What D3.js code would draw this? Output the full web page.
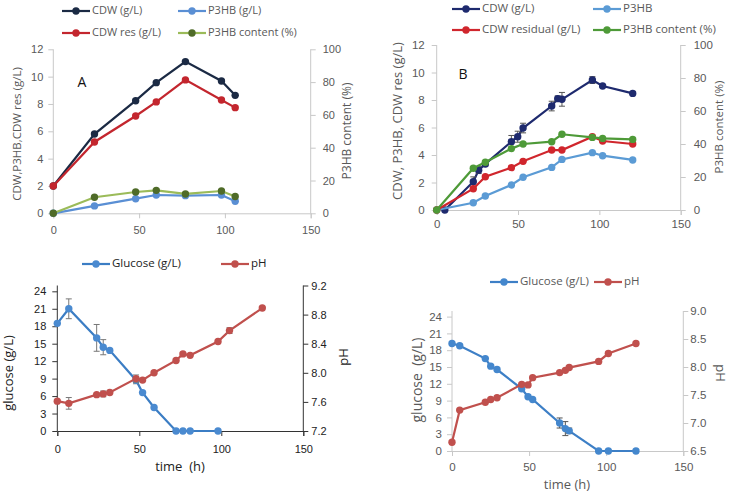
<!DOCTYPE html>
<html><head><meta charset="utf-8">
<script src="https://cdn.jsdelivr.net/npm/d3@7"></script>
<style>
html,body{margin:0;padding:0;background:#fff;}
svg{display:block;font-family:'Open Sans',sans-serif;}
</style></head>
<body><svg id="chart" width="729" height="493"></svg>
<script>
// ---------- Panel A ----------
const timeA = [0, 24, 48, 60, 77, 98, 106];
const cdwA = [2.0, 5.8, 8.24, 9.56, 11.1, 9.68, 8.63];
const cdwResA = [2.0, 5.22, 7.12, 8.15, 9.76, 8.29, 7.73];
const p3hbA = [0, 0.54, 1.07, 1.34, 1.29, 1.34, 0.88];
const p3hbContentA = [0, 9.8, 13.0, 14.0, 11.8, 13.6, 10.2];
// ---------- Panel B ----------
const timeCdwB = [5, 22.5, 25.8, 29.9, 45.9, 49.8, 53.1, 70.7, 74.4, 77, 95.7, 102, 120.5];
const cdwB = [0, 2.06, 2.9, 3.35, 4.97, 5.33, 5.96, 7.56, 8.1, 8.05, 9.45, 9.02, 8.48];
const cdwErrB = [0, 0.35, 0.25, 0.15, 0.45, 0.4, 0.35, 0.35, 0.2, 0.5, 0.25, 0.1, 0.1];
const timeB = [0, 22.5, 29.9, 45.9, 53.1, 70.7, 77, 95.7, 102, 120.5];
const cdwResB = [0, 1.55, 2.42, 3.08, 3.54, 4.36, 4.36, 5.33, 5.02, 4.8];
const p3hbB = [0, 0.53, 1.02, 1.82, 2.38, 3.1, 3.68, 4.17, 3.95, 3.64];
const p3hbContentB = [0, 25.3, 28.9, 37.2, 40.0, 41.4, 45.9, 44.0, 43.4, 42.8];
// ---------- Panel C ----------
const timeGluC = [0, 7, 24, 28, 32, 48, 52, 59, 72.4, 76.6, 81, 98];
const glucoseC = [18.5, 21.0, 16.0, 14.4, 13.85, 8.72, 6.6, 4.05, 0, 0, 0, 0];
const glucoseErrC = [0, 1.7, 2.3, 1.3, 0, 0.6, 0, 0, 0, 0, 0, 0];
const timePhC = [0, 7, 24, 28, 32, 48, 52, 59, 72.4, 76.6, 81, 98, 105, 125];
const phC = [7.61, 7.58, 7.7, 7.71, 7.73, 7.92, 7.9, 8.0, 8.17, 8.26, 8.24, 8.43, 8.58, 8.89];
const phErrC = [0, 0.08, 0, 0.04, 0, 0.05, 0, 0, 0, 0, 0, 0, 0.04, 0];
// ---------- Panel D ----------
const timeD = [0, 5, 21.6, 25.1, 29.2, 45.2, 49.3, 52.3, 69.8, 73.5, 76, 95.1, 101.4, 119.3];
const glucoseD = [19.2, 18.8, 16.5, 15.15, 14.55, 11.1, 9.7, 9.2, 5.0, 4.0, 3.6, 0, 0, 0];
const glucoseErrD = [0, 0, 0, 0, 0, 0, 0, 0, 0.9, 1.25, 0.5, 0, 0, 0];
const phD = [6.655, 7.23, 7.37, 7.42, 7.45, 7.69, 7.68, 7.81, 7.9, 7.94, 7.99, 8.1, 8.24, 8.42];
// ---------- Ticks ----------
const xTicks = [0, 50, 100, 150];
const ticksAB = [0, 2, 4, 6, 8, 10, 12];
const ticksPct = [0, 20, 40, 60, 80, 100];
const ticksGlu = [0, 3, 6, 9, 12, 15, 18, 21, 24];
const ticksPhC = [7.2, 7.6, 8.0, 8.4, 8.8, 9.2];
const ticksPhD = [6.5, 7.0, 7.5, 8.0, 8.5, 9.0];

const svg = d3.select('#chart');

function panel(cfg) {
  const g = svg.append('g');
  const x = d3.scaleLinear().domain([0, 150]).range([cfg.x0, cfg.x1]);
  const y = d3.scaleLinear().domain(cfg.yDom).range([cfg.yB, cfg.yT]);
  const y2 = d3.scaleLinear().domain(cfg.y2Dom).range([cfg.yB, cfg.yT]);
  const ac = cfg.axisColor, tc = cfg.textColor;

  function style(sel, fs) {
    sel.select('.domain').attr('stroke', ac).attr('stroke-width', 1);
    sel.selectAll('.tick line').attr('stroke', ac);
    sel.selectAll('.tick text').attr('fill', tc).style('font-size', fs + 'px');
  }
  const ax = g.append('g').attr('transform', `translate(0,${cfg.yB})`)
    .call(d3.axisBottom(x).tickValues(xTicks).tickSizeOuter(0).tickSize(5).tickPadding(cfg.xPad));
  style(ax, cfg.tickFs);
  const al = g.append('g').attr('transform', `translate(${cfg.x0},0)`)
    .call(d3.axisLeft(y).tickValues(cfg.yTicks).tickSizeOuter(0).tickSize(5).tickPadding(cfg.lPad));
  style(al, cfg.tickFs);
  const ar = g.append('g').attr('transform', `translate(${cfg.x1},0)`)
    .call(d3.axisRight(y2).tickValues(cfg.y2Ticks).tickSizeOuter(0).tickSize(5).tickPadding(cfg.rPad)
      .tickFormat(cfg.y2Fmt ? d3.format(cfg.y2Fmt) : null));
  style(ar, cfg.tickFs);
  al.select('.domain').attr('d', `M0,${cfg.yB}V${cfg.yT}`);
  ar.select('.domain').attr('d', `M0,${cfg.yB}V${cfg.yT}`);

  cfg.series.forEach(s => {
    const sc = s.axis === 'right' ? y2 : y;
    const pts = s.xs.map((t, i) => [x(t), sc(s.ys[i])]);
    g.append('path').attr('d', d3.line()(pts)).attr('fill', 'none')
      .attr('stroke', s.color).attr('stroke-width', s.lw || 2.2);
    if (s.err) {
      s.xs.forEach((t, i) => {
        const e = s.err[i]; if (!e) return;
        const cx = x(t), ya = sc(s.ys[i] - e), yb = sc(s.ys[i] + e);
        g.append('path').attr('d', `M${cx},${ya}V${yb}M${cx - 3},${ya}H${cx + 3}M${cx - 3},${yb}H${cx + 3}`)
          .attr('stroke', s.errColor || '#666').attr('stroke-width', 1).attr('fill', 'none');
      });
    }
    g.selectAll(null).data(pts).enter().append('circle')
      .attr('cx', d => d[0]).attr('cy', d => d[1]).attr('r', s.r || 3.7)
      .attr('fill', s.mColor || s.color);
  });

  cfg.titles.forEach(t => {
    g.append('text').attr('x', 0).attr('y', 0).text(t.text)
      .attr('fill', t.color || tc).style('font-size', t.fs + 'px').attr('text-anchor', 'middle')
      .attr('dominant-baseline', 'middle').style('white-space', 'pre')
      .attr('transform', `translate(${t.x},${t.y}) rotate(${t.rot || 0})`);
  });
  cfg.legend.forEach(l => {
    g.append('line').attr('x1', l.x).attr('x2', l.x + 28).attr('y1', l.y).attr('y2', l.y)
      .attr('stroke', l.color).attr('stroke-width', 2.2);
    g.append('circle').attr('cx', l.x + 14).attr('cy', l.y).attr('r', 3.7).attr('fill', l.mColor || l.color);
    g.append('text').attr('x', l.x + 30).attr('y', l.y).attr('dominant-baseline', 'middle')
      .attr('fill', cfg.legendColor || tc).style('font-size', cfg.legendFs + 'px').text(l.label);
  });
}

// Panel A
panel({
  x0: 53.3, x1: 310.7, yB: 213.3, yT: 49.3, yDom: [0, 12], y2Dom: [0, 100],
  yTicks: ticksAB, y2Ticks: ticksPct, axisColor: '#c8c8c8', textColor: '#595959',
  tickFs: 11, xPad: 8, lPad: 5, rPad: 7, legendFs: 11,
  series: [
    {xs: timeA, ys: cdwA, color: '#1b2a44'},
    {xs: timeA, ys: p3hbA, color: '#5a8fd4'},
    {xs: timeA, ys: cdwResA, color: '#c3262e'},
    {xs: timeA, ys: p3hbContentA, color: '#9bbb59', mColor: '#4f6b28', axis: 'right'}
  ],
  titles: [
    {text: 'CDW,P3HB,CDW res (g/L)', x: 18, y: 134, rot: -90, fs: 11.5},
    {text: 'P3HB content (%)', x: 348, y: 131, rot: -90, fs: 12},
    {text: 'A', x: 82, y: 83, fs: 14, color: '#111'}
  ],
  legend: [
    {label: 'CDW (g/L)', x: 62, y: 11, color: '#1b2a44'},
    {label: 'P3HB (g/L)', x: 178, y: 11, color: '#5a8fd4'},
    {label: 'CDW res (g/L)', x: 62, y: 33, color: '#c3262e'},
    {label: 'P3HB content (%)', x: 178, y: 33, color: '#9bbb59', mColor: '#4f6b28'}
  ]
});

// Panel B
panel({
  x0: 436.7, x1: 680.7, yB: 210, yT: 45, yDom: [0, 12], y2Dom: [0, 100],
  yTicks: ticksAB, y2Ticks: ticksPct, axisColor: '#c8c8c8', textColor: '#595959',
  tickFs: 11.5, xPad: 5, lPad: 7, rPad: 8, legendFs: 11.5,
  series: [
    {xs: timeCdwB, ys: cdwB, color: '#1e2a6e', err: cdwErrB, errColor: '#555'},
    {xs: timeB, ys: p3hbB, color: '#5b9bd5'},
    {xs: timeB, ys: cdwResB, color: '#d0262d'},
    {xs: timeB, ys: p3hbContentB, color: '#4e9a38', axis: 'right'}
  ],
  titles: [
    {text: 'CDW, P3HB, CDW res (g/L)', x: 399, y: 121, rot: -90, fs: 13},
    {text: 'P3HB content (%)', x: 720, y: 127, rot: -90, fs: 11.5},
    {text: 'B', x: 463, y: 75, fs: 14, color: '#111'}
  ],
  legend: [
    {label: 'CDW (g/L)', x: 452, y: 9, color: '#1e2a6e'},
    {label: 'P3HB', x: 593, y: 9, color: '#5b9bd5'},
    {label: 'CDW residual (g/L)', x: 452, y: 30, color: '#d0262d'},
    {label: 'P3HB content (%)', x: 593, y: 30, color: '#4e9a38'}
  ]
});

// Panel C
panel({
  x0: 57.3, x1: 303.3, yB: 431, yT: 285.5, yDom: [0, 25], y2Dom: [7.2, 9.2],
  yTicks: ticksGlu, y2Ticks: ticksPhC, y2Fmt: '.1f', axisColor: '#333', textColor: '#222',
  tickFs: 11, xPad: 9, lPad: 6, rPad: 3, legendFs: 11.5,
  series: [
    {xs: timeGluC, ys: glucoseC, color: '#3b7dc4', mColor: '#4a8ad0', err: glucoseErrC, errColor: '#777'},
    {xs: timePhC, ys: phC, color: '#c0504d', axis: 'right', err: phErrC, errColor: '#777'}
  ],
  titles: [
    {text: 'glucose (g/L)', x: 10, y: 373, rot: -90, fs: 13},
    {text: 'pH', x: 345, y: 357, rot: -90, fs: 13},
    {text: 'time  (h)', x: 180, y: 468, fs: 13}
  ],
  legend: [
    {label: 'Glucose (g/L)', x: 82, y: 264, color: '#3b7dc4', mColor: '#4a8ad0'},
    {label: 'pH', x: 221, y: 264, color: '#c0504d'}
  ]
});

// Panel D
panel({
  x0: 452, x1: 683.3, yB: 451, yT: 311, yDom: [0, 25], y2Dom: [6.5, 9.0],
  yTicks: ticksGlu, y2Ticks: ticksPhD, y2Fmt: '.1f', axisColor: '#c8c8c8', textColor: '#595959',
  tickFs: 11.5, xPad: 7, lPad: 5, rPad: 2, legendFs: 11.5,
  series: [
    {xs: timeD, ys: glucoseD, color: '#3d7fc6', mColor: '#4487cd', err: glucoseErrD, errColor: '#555'},
    {xs: timeD, ys: phD, color: '#c0504d', axis: 'right'}
  ],
  titles: [
    {text: 'glucose  (g/L)', x: 418, y: 380, rot: -90, fs: 14},
    {text: 'pH', x: 719, y: 373, rot: 90, fs: 13},
    {text: 'time (h)', x: 567, y: 486, fs: 13}
  ],
  legend: [
    {label: 'Glucose (g/L)', x: 490, y: 282, color: '#3d7fc6', mColor: '#4487cd'},
    {label: 'pH', x: 594, y: 282, color: '#c0504d'}
  ]
});
</script></body></html>
